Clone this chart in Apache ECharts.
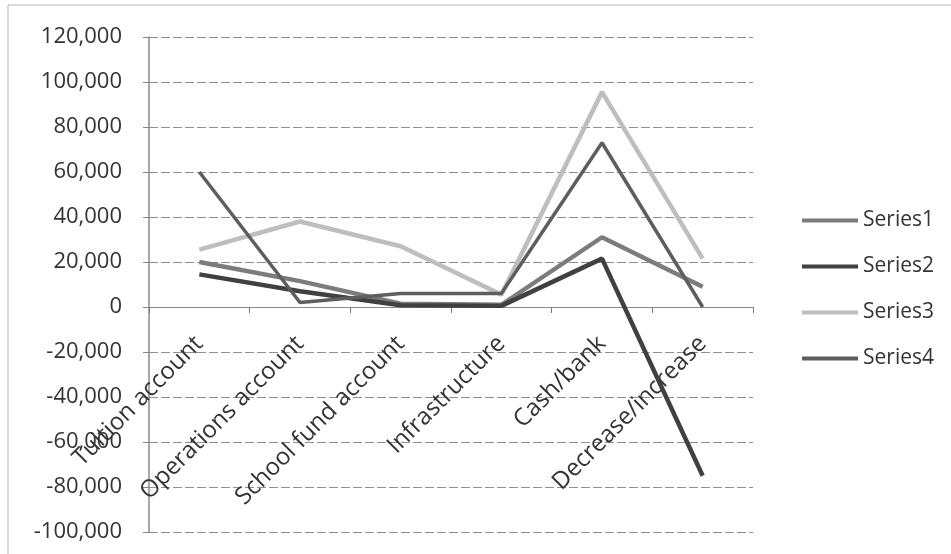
<!DOCTYPE html>
<html>
<head>
<meta charset="utf-8">
<script src="https://cdn.jsdelivr.net/npm/echarts@6/dist/echarts.min.js"></script>
<style>
html,body{margin:0;padding:0;background:#fff;}
#chart{width:951px;height:554px;}
</style>
</head>
<body>
<div id="chart"></div>
<script>
var categories = ["Tuition account", "Operations account", "School fund account", "Infrastructure", "Cash/bank", "Decrease/increase"];
var seriesNames = ["Series1", "Series2", "Series3", "Series4"];
var series1 = [20000, 11500, 1500, 1000, 31000, 9000];
var series2 = [14500, 7000, 800, 500, 21500, -75000];
var series3 = [25500, 38000, 27000, 5500, 95500, 21500];
var series4 = [60000, 2000, 6000, 6000, 73000, 0];
var yMin = -100000, yMax = 120000, yStep = 20000;

var seriesData = [series1, series2, series3, series4];
var colors = ["#7c7c7c", "#404040", "#bebebe", "#5e5e5e"];
var widths = [4.5, 4.5, 4.5, 3.5];

var gridTop = 37, gridBottom = 22, chartH = 554;
var plotH = chartH - gridTop - gridBottom;
var zeroOffset = -plotH * (0 - yMin) / (yMax - yMin);

var chart = echarts.init(document.getElementById('chart'));
var font = "'Open Sans', 'Noto Sans', sans-serif";
chart.setOption({
  backgroundColor: '#ffffff',
  animation: false,
  graphic: [{
    type: 'rect', shape: {x: 8, y: 5, width: 1000, height: 600},
    style: {fill: 'none', stroke: '#b5b5b5', lineWidth: 1}, silent: true
  }],
  grid: {left: 149, right: 198, top: gridTop, bottom: gridBottom, containLabel: false, outerBoundsMode: 'none'},
  legend: {
    orient: 'vertical', left: 797, top: 205, itemWidth: 56, itemHeight: 4,
    itemGap: 25, icon: 'rect',
    data: seriesNames,
    textStyle: {fontFamily: font, fontSize: 21, color: '#333', padding: [0,0,0,0]}
  },
  xAxis: {
    type: 'category', data: categories, boundaryGap: true,
    offset: zeroOffset,
    axisLine: {onZero: false, lineStyle: {color: '#8a8a8a', width: 1}},
    axisTick: {show: true, length: 6, alignWithLabel: false, lineStyle: {color: '#777'}},
    axisLabel: {rotate: 45, interval: 0, margin: 33, fontFamily: font, fontSize: 24, color: '#333'},
    splitLine: {show: false}
  },
  yAxis: {
    type: 'value', min: yMin, max: yMax, interval: yStep,
    axisLine: {show: true, lineStyle: {color: '#8a8a8a', width: 1.5}},
    axisTick: {show: true, length: 6, lineStyle: {color: '#888'}},
    axisLabel: {margin: 27, fontFamily: font, fontSize: 22, color: '#333',
      formatter: function (v) { return v.toLocaleString('en-US'); }},
    splitLine: {show: true, lineStyle: {color: '#8f8f8f', width: 1, type: [9, 3]}}
  },
  series: seriesData.map(function (d, i) {
    return {
      name: seriesNames[i], type: 'line', data: d, symbol: 'none',
      lineStyle: {color: colors[i], width: widths[i]},
      itemStyle: {color: colors[i]}
    };
  })
});
</script>
</body>
</html>
